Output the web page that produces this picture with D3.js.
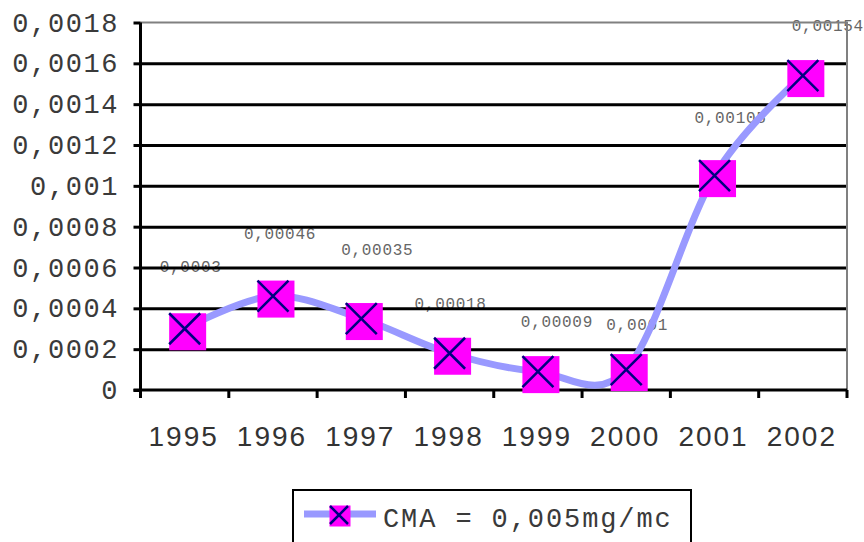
<!DOCTYPE html>
<html>
<head>
<meta charset="utf-8">
<script src="https://cdn.jsdelivr.net/npm/d3@7"></script>
<style>
  body { margin: 0; background: #fff; }
  svg { display: block; }
  .mono { font-family: "Liberation Mono", "DejaVu Sans Mono", monospace; }
</style>
</head>
<body>
<div id="chart"></div>
<script>
// Chart data
const years = ['1995', '1996', '1997', '1998', '1999', '2000', '2001', '2002'];
const values = [0.0003, 0.00046, 0.00035, 0.00018, 0.00009, 0.0001, 0.00105, 0.00154];
const yTicks = [0, 0.0002, 0.0004, 0.0006, 0.0008, 0.001, 0.0012, 0.0014, 0.0016, 0.0018];
const seriesName = 'CMA = 0,005mg/mc';

// label nudges (px) relative to the point, as placed in the original
const labelNudge = [[6, -62], [7, -63], [16, -69], [1, -50], [19, -50], [11, -45], [16, -58], [25, -50]];

const width = 864, height = 542;
const plot = { left: 140.5, right: 847, top: 22.5, bottom: 390 };

const locale = d3.formatLocale({ decimal: ',', thousands: '.', grouping: [3], currency: ['', ''] });
const fmtAxis = locale.format('.4~f');
const fmtLabel = locale.format('.5~f');

const svg = d3.select('#chart').append('svg')
    .attr('width', width)
    .attr('height', height);

const x = d3.scaleBand()
    .domain(years)
    .range([plot.left, plot.right])
    .paddingInner(0)
    .paddingOuter(0);

const y = d3.scaleLinear()
    .domain([0, 0.0018])
    .range([plot.bottom, plot.top]);

const cx = d => x(d.year) + x.bandwidth() / 2;
const cy = d => y(d.value);
const data = years.map((yr, i) => ({ year: yr, value: values[i], nudge: labelNudge[i] }));

// Data labels (sit under the grid in the original)
svg.append('g')
    .selectAll('text')
    .data(data)
    .join('text')
    .attr('class', 'mono')
    .attr('x', d => cx(d) + d.nudge[0])
    .attr('y', d => cy(d) + d.nudge[1])
    .attr('dy', '0.35em')
    .attr('text-anchor', 'middle')
    .attr('font-size', '16px')
    .attr('letter-spacing', '0.7px')
    .attr('fill', '#666')
    .text(d => fmtLabel(d.value));

// Grid lines
svg.append('g')
    .attr('transform', `translate(${plot.left},0)`)
    .call(d3.axisLeft(y)
        .tickValues(yTicks.filter(t => t > 0 && t < 0.0018))
        .tickSize(-(plot.right - plot.left))
        .tickFormat(''))
    .call(g => g.select('.domain').remove())
    .call(g => g.selectAll('line').attr('stroke', '#000').attr('stroke-width', 3));

// Plot border (top and right), grey
svg.append('path')
    .attr('d', `M${plot.left},${y(0.0018)}H${plot.right}V${y(0)}`)
    .attr('fill', 'none')
    .attr('stroke', '#808080')
    .attr('stroke-width', 2);

// Y axis
svg.append('g')
    .attr('transform', `translate(${plot.left},0)`)
    .call(d3.axisLeft(y)
        .tickValues(yTicks)
        .tickSize(7)
        .tickPadding(16)
        .tickFormat(fmtAxis))
    .call(g => g.select('.domain')
        .attr('d', `M0,${y(0.0018)}V${y(0) + 8}`)
        .attr('stroke', '#000').attr('stroke-width', 3))
    .call(g => g.selectAll('line').attr('stroke', '#000').attr('stroke-width', 3))
    .call(g => g.selectAll('text')
        .attr('class', 'mono')
        .attr('font-size', '27px')
        .attr('letter-spacing', '1.6px')
        .attr('dx', '1.6px')
        .attr('fill', '#3a3a3a'));

// X axis line and boundary ticks
const bounds = years.map(yr => x(yr)).concat([x.range()[1]]);
svg.append('line')
    .attr('x1', plot.left - 7).attr('x2', plot.right)
    .attr('y1', y(0)).attr('y2', y(0))
    .attr('stroke', '#000').attr('stroke-width', 3);
svg.append('g')
    .selectAll('line')
    .data(bounds)
    .join('line')
    .attr('x1', d => d).attr('x2', d => d)
    .attr('y1', y(0)).attr('y2', y(0) + 8)
    .attr('stroke', '#000').attr('stroke-width', 3);

svg.append('g')
    .selectAll('text')
    .data(years)
    .join('text')
    .attr('x', d => x(d) + x.bandwidth() / 2 - 1)
    .attr('y', 446)
    .attr('text-anchor', 'middle')
    .attr('font-family', '"Liberation Sans", Arial, sans-serif')
    .attr('font-size', '28px')
    .attr('letter-spacing', '2px')
    .attr('fill', '#333')
    .text(d => d);

// Series line
const line = d3.line()
    .x(cx)
    .y(cy)
    .curve(d3.curveCardinal.tension(0));

svg.append('path')
    .datum(data)
    .attr('d', line)
    .attr('fill', 'none')
    .attr('stroke', '#9999ff')
    .attr('stroke-width', 7)
    .attr('stroke-linejoin', 'round');

// Markers: magenta square with navy cross
function drawMarker(g, size, crossHalf, shift) {
    g.append('rect')
        .attr('x', -size / 2 + shift)
        .attr('y', -size / 2 + shift)
        .attr('width', size)
        .attr('height', size)
        .attr('fill', '#ff00ff');
    g.append('path')
        .attr('d', `M${-crossHalf},${-crossHalf}L${crossHalf},${crossHalf}M${crossHalf},${-crossHalf}L${-crossHalf},${crossHalf}`)
        .attr('stroke', '#000080')
        .attr('stroke-width', 2.5)
        .attr('fill', 'none');
}

svg.append('g')
    .selectAll('g')
    .data(data)
    .join('g')
    .attr('transform', d => `translate(${cx(d)},${cy(d)})`)
    .each(function() { drawMarker(d3.select(this), 37, 15.5, 3); });

// Legend
const legend = svg.append('g');
legend.append('rect')
    .attr('x', 293).attr('y', 490)
    .attr('width', 398).attr('height', 80)
    .attr('fill', '#fff')
    .attr('stroke', '#000')
    .attr('stroke-width', 2);
legend.append('line')
    .attr('x1', 304).attr('x2', 376)
    .attr('y1', 514).attr('y2', 514)
    .attr('stroke', '#9999ff')
    .attr('stroke-width', 7);
legend.append('g')
    .attr('transform', 'translate(339,515)')
    .call(g => drawMarker(g, 21, 9, 1));
legend.append('text')
    .attr('class', 'mono')
    .attr('x', 383).attr('y', 527)
    .attr('font-size', '27px')
    .attr('letter-spacing', '1.9px')
    .attr('fill', '#3a3a3a')
    .text(seriesName);
</script>
</body>
</html>
